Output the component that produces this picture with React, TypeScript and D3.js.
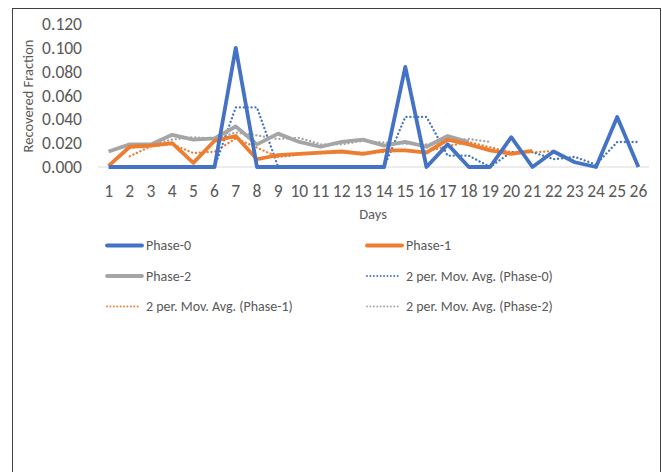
import React, { useEffect, useRef } from 'react';
import * as d3 from 'd3';

const days = d3.range(1, 27).map(String);
const phase0 = [0, 0, 0, 0, 0, 0, 0.1, 0, 0, 0, 0, 0, 0, 0, 0.084, 0, 0.019, 0, 0, 0.025, 0, 0.013, 0.004, 0, 0.042, 0];
const phase1 = [0.001, 0.017, 0.018, 0.02, 0.0035, 0.022, 0.026, 0.0065, 0.01, 0.011, 0.012, 0.013, 0.011, 0.014, 0.014, 0.012, 0.023, 0.019, 0.014, 0.011, 0.0135];
const phase2 = [0.013, 0.019, 0.019, 0.027, 0.023, 0.024, 0.034, 0.019, 0.028, 0.021, 0.017, 0.021, 0.023, 0.018, 0.021, 0.017, 0.026, 0.021];
const yTicks = [0, 0.02, 0.04, 0.06, 0.08, 0.1, 0.12];

const BLUE = '#4472C4';
const ORANGE = '#ED7D31';
const GRAY = '#A5A5A5';
const TEXT = '#595959';
const FONT = 'Carlito, Lato, "Open Sans", sans-serif';

// 2-period moving average, Excel style: runs one point past the series end
const movAvg = (vals: number[]): [number, number][] => {
  const out: [number, number][] = [];
  for (let i = 1; i <= vals.length && i < days.length; i++) {
    const pair = [vals[i - 1], vals[i]].filter(v => v !== undefined);
    out.push([i, d3.mean(pair) as number]);
  }
  return out;
};

export default function App() {
  const ref = useRef<SVGSVGElement | null>(null);

  useEffect(() => {
    const svg = d3.select(ref.current);
    svg.selectAll('*').remove();

    const x = d3.scaleBand().domain(days).range([98, 649]);
    const y = d3.scaleLinear().domain([0, 0.12]).range([167, 24]);
    const cx = (i: number) => (x(days[i]) ?? 0) + x.bandwidth() / 2;

    // chart border
    svg.append('rect')
      .attr('x', 12.5).attr('y', 8.5)
      .attr('width', 648).attr('height', 500)
      .attr('fill', 'white').attr('stroke', '#404040').attr('stroke-width', 1);

    // baseline
    svg.append('line')
      .attr('x1', 98).attr('x2', 649)
      .attr('y1', y(0)).attr('y2', y(0))
      .attr('stroke', '#D9D9D9').attr('stroke-width', 1);

    // y ticks
    svg.append('g').selectAll('text')
      .data(yTicks).enter().append('text')
      .attr('x', 82).attr('y', d => y(d))
      .attr('dy', '0.35em')
      .attr('text-anchor', 'end')
      .attr('font-size', 17.5).attr('fill', TEXT).attr('font-family', FONT)
      .text(d => d3.format('.3f')(d));

    // x ticks
    svg.append('g').selectAll('text')
      .data(days).enter().append('text')
      .attr('x', (d, i) => cx(i)).attr('y', 197)
      .attr('text-anchor', 'middle')
      .attr('font-size', 17.5).attr('fill', TEXT).attr('font-family', FONT)
      .text(d => d);

    svg.append('text')
      .attr('x', 373).attr('y', 219)
      .attr('text-anchor', 'middle')
      .attr('font-size', 14.5).attr('fill', TEXT).attr('font-family', FONT)
      .text('Days');

    svg.append('text')
      .attr('transform', 'translate(33,96) rotate(-90)')
      .attr('text-anchor', 'middle')
      .attr('font-size', 14.5).attr('fill', TEXT).attr('font-family', FONT)
      .text('Recovered Fraction');

    const line = d3.line<[number, number]>()
      .x(d => cx(d[0]))
      .y(d => y(d[1]));

    const series = [
      { vals: phase2, color: GRAY },
      { vals: phase1, color: ORANGE },
      { vals: phase0, color: BLUE },
    ];

    // moving average trendlines
    series.forEach(s => {
      svg.append('path')
        .attr('d', line(movAvg(s.vals)))
        .attr('fill', 'none').attr('stroke', s.color)
        .attr('stroke-width', 2.3).attr('stroke-linecap', 'round')
        .attr('stroke-dasharray', '0.1 3.8');
    });

    // solid series
    series.forEach(s => {
      svg.append('path')
        .attr('d', line(s.vals.map((v, i) => [i, v] as [number, number])))
        .attr('fill', 'none').attr('stroke', s.color)
        .attr('stroke-width', 3.8).attr('stroke-linejoin', 'round');
    });

    // legend
    const legend = [
      { name: 'Phase-0', color: BLUE, dotted: false, col: 0, row: 0 },
      { name: 'Phase-1', color: ORANGE, dotted: false, col: 1, row: 0 },
      { name: 'Phase-2', color: GRAY, dotted: false, col: 0, row: 1 },
      { name: '2 per. Mov. Avg. (Phase-0)', color: BLUE, dotted: true, col: 1, row: 1 },
      { name: '2 per. Mov. Avg. (Phase-1)', color: ORANGE, dotted: true, col: 0, row: 2 },
      { name: '2 per. Mov. Avg. (Phase-2)', color: GRAY, dotted: true, col: 1, row: 2 },
    ];
    const lg = svg.append('g').selectAll('g')
      .data(legend).enter().append('g')
      .attr('transform', d => `translate(${107 + d.col * 260},${245.5 + d.row * 30.5})`);
    lg.append('line')
      .attr('x1', 0).attr('x2', d => (d.dotted ? 32 : 35))
      .attr('stroke', d => d.color)
      .attr('stroke-width', d => (d.dotted ? 1.8 : 3.8))
      .attr('stroke-linecap', 'round')
      .attr('stroke-dasharray', d => (d.dotted ? '0.1 3.3' : null));
    lg.append('text')
      .attr('x', 39).attr('dy', '0.35em')
      .attr('font-size', 14).attr('fill', TEXT).attr('font-family', FONT)
      .text(d => d.name);
  }, []);

  return (
    <svg ref={ref} width={662} height={472}
      style={{ position: 'absolute', left: 0, top: 0, display: 'block', background: 'white' }} />
  );
}
